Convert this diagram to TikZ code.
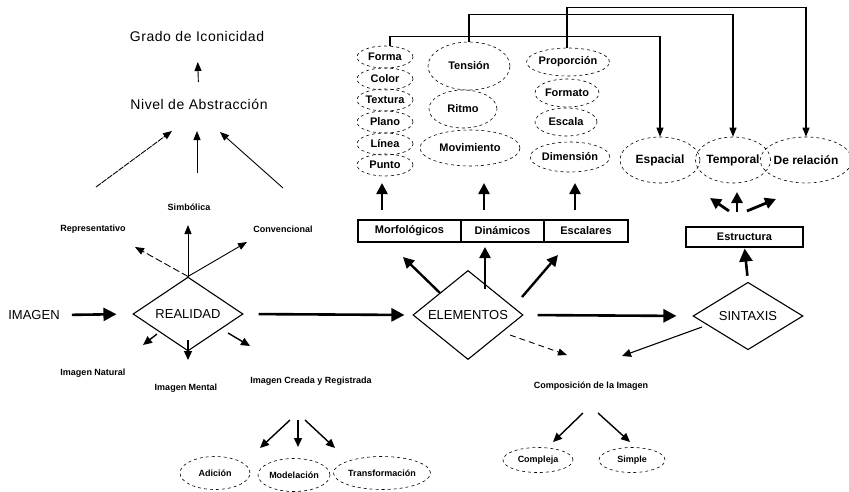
\documentclass[tikz,border=0pt]{standalone}
\usepackage{fontspec}
\setmainfont{Liberation Sans}
\usetikzlibrary{shapes.geometric,arrows.meta}
\tikzset{
  bigtxt/.style={inner sep=0pt,font=\fontsize{14}{16}\selectfont\addfontfeature{LetterSpace=4}},
  lbl/.style={inner sep=0pt,font=\bfseries\fontsize{9}{10}\selectfont},
  coltxt/.style={font=\bfseries\fontsize{11}{13}\selectfont},
  ell/.style={ellipse,draw,dashed,dash pattern=on 3pt off 3pt,line width=0.6pt,inner sep=0pt,coltxt},
  boxnode/.style={rectangle,draw,line width=1.1pt,inner sep=0pt,minimum height=22pt,font=\bfseries\fontsize{11}{13}\selectfont},
  dia/.style={diamond,draw,line width=1.1pt,inner sep=0pt,font=\fontsize{13}{15}\selectfont},
  fat/.style={line width=2.6pt,-{Triangle[width=13pt,length=13pt]}},
  fatsm/.style={line width=2.4pt,-{Triangle[width=11pt,length=11pt]}},
  mid/.style={line width=1.4pt,-{Triangle[width=8pt,length=9pt]}},
  thinarr/.style={line width=0.9pt,-{Triangle[width=7pt,length=9pt]}},
  elbow/.style={line width=1.1pt,-{Triangle[width=7pt,length=9pt]}}
}
\begin{document}
\begin{tikzpicture}[x=1pt,y=-1pt]
\fill[white] (0,0) rectangle (849,491);
\useasboundingbox (0,0) rectangle (849,491);

% left tree
\node[bigtxt] (grado) at (197,36) {Grado de Iconicidad};
\node[bigtxt] (nivel) at (199,104) {Nivel de Abstracción};
\node[lbl] (simb) at (189,207) {Simbólica};
\node[lbl] (repre) at (93,229) {Representativo};
\node[lbl] (conv) at (283,229) {Convencional};
\node[inner sep=0pt,font=\fontsize{13}{15}\selectfont] (imagen) at (34,315) {IMAGEN};
\node[dia,minimum width=110pt,minimum height=38pt] (realidad) at (188,314) {REALIDAD};
\node[lbl] (natural) at (93,373) {Imagen Natural};
\node[lbl] (mental) at (186,388) {Imagen Mental};
\node[lbl] (creada) at (311,381) {Imagen Creada y Registrada};
\node[ell,lbl,minimum width=70pt,minimum height=33pt] (adicion) at (215,473) {Adición};
\node[ell,lbl,minimum width=72pt,minimum height=33pt] (modelacion) at (294,475) {Modelación};
\node[ell,lbl,minimum width=97pt,minimum height=33pt] (transf) at (382,473) {Transformación};

% centre
\node[dia,minimum width=110pt,minimum height=50pt] (elementos) at (468,315) {ELEMENTOS};
\node[dia,minimum width=110pt,minimum height=38pt] (sintaxis) at (748,316) {SINTAXIS};
\node[lbl] (compos) at (591,386) {Composición de la Imagen};
\node[ell,lbl,minimum width=70pt,minimum height=25pt] (compleja) at (538,460) {Compleja};
\node[ell,lbl,minimum width=66pt,minimum height=25pt] (simple) at (632,460) {Simple};

% boxes
\node[boxnode,minimum width=103pt] (morf) at (409.5,231) {Morfológicos};
\node[boxnode,minimum width=83pt] (dina) at (502.5,231) {Dinámicos};
\node[boxnode,minimum width=84pt] (esca) at (586,231) {Escalares};
\node[boxnode,minimum width=117pt,minimum height=20pt] (estr) at (744.5,237) {Estructura};

% column 1
\node[ell,minimum width=56pt,minimum height=22pt] (forma) at (385,57) {Forma};
\node[ell,minimum width=56pt,minimum height=22pt] (color) at (385,79) {Color};
\node[ell,minimum width=56pt,minimum height=22pt] (textura) at (385,100) {Textura};
\node[ell,minimum width=56pt,minimum height=22pt] (plano) at (385,122) {Plano};
\node[ell,minimum width=56pt,minimum height=22pt] (linea) at (385,144) {Línea};
\node[ell,minimum width=56pt,minimum height=22pt] (punto) at (385,165) {Punto};
% column 2
\node[ell,minimum width=82pt,minimum height=48pt] (tension) at (469,66) {Tensión};
\node[ell,minimum width=68pt,minimum height=38pt] (ritmo) at (463,109) {Ritmo};
\node[ell,minimum width=100pt,minimum height=36pt] (movim) at (470,148) {Movimiento};
% column 3
\node[ell,minimum width=74pt,minimum height=28pt] (proporcion) at (568,62) {Proporción};
\node[ell,minimum width=64pt,minimum height=28pt] (formato) at (567,93) {Formato};
\node[ell,minimum width=62pt,minimum height=28pt] (escala) at (566,122) {Escala};
\node[ell,minimum width=74pt,minimum height=30pt] (dimension) at (570,157) {Dimensión};
% right
\node[ell,minimum width=80pt,minimum height=46pt,font=\bfseries\fontsize{12}{14}\selectfont] (espacial) at (660,160) {Espacial};
\node[ell,minimum width=74pt,minimum height=46pt,font=\bfseries\fontsize{12}{14}\selectfont] (temporal) at (733,160) {Temporal};
\node[ell,minimum width=84pt,minimum height=46pt,font=\bfseries\fontsize{12}{14}\selectfont] (relacion) at (806,160) {De relación};

% coordinates for free ends
\coordinate (nA) at (96,187);  \coordinate (nAh) at (172,131);
\coordinate (nB) at (197,173); \coordinate (nBh) at (197,131);
\coordinate (nC) at (283,188); \coordinate (nCh) at (220,132);
\coordinate (rRep) at (135,247);
\coordinate (rSim) at (188,225);
\coordinate (rCon) at (247,242);
\coordinate (rN0) at (157,334); \coordinate (rN1) at (143,345);
\coordinate (rM0) at (188,340); \coordinate (rM1) at (188,360);
\coordinate (rC0) at (228,333); \coordinate (rC1) at (250,346);
\coordinate (cA) at (290,420); \coordinate (cAh) at (260,448);
\coordinate (cB) at (298,420); \coordinate (cBh) at (298,447);
\coordinate (cC) at (305,420); \coordinate (cCh) at (335,448);
\coordinate (eL0) at (440,293); \coordinate (eL1) at (403,257);
\coordinate (eM0) at (485,289); \coordinate (eM1) at (485,247);
\coordinate (eR0) at (522,297); \coordinate (eR1) at (558,255);
\coordinate (eD0) at (510,335); \coordinate (eD1) at (567,355);
\coordinate (sC0) at (702,327); \coordinate (sC1) at (622,356);
\coordinate (kA0) at (583,413); \coordinate (kA1) at (553,442);
\coordinate (kB0) at (598,413); \coordinate (kB1) at (630,442);
\coordinate (bA0) at (382,210); \coordinate (bA1) at (382,183);
\coordinate (bB0) at (484,210); \coordinate (bB1) at (484,183);
\coordinate (bC0) at (575,210); \coordinate (bC1) at (575,183);
\coordinate (tA0) at (729,211); \coordinate (tA1) at (710,198);
\coordinate (tB0) at (737,212); \coordinate (tB1) at (737,192);
\coordinate (tC0) at (747,211); \coordinate (tC1) at (776,199);

% arrows left
\draw[thinarr] (nivel.center) -- (grado.center) [shorten <=22pt, shorten >=26pt];
\draw[thinarr,dash pattern=on 6pt off 1pt] (nA) -- (nAh);
\draw[thinarr] (nB) -- (nBh);
\draw[thinarr] (nC) -- (nCh);
\draw[thinarr,dash pattern=on 7pt off 3pt] (realidad.north) -- (rRep);
\draw[thinarr] (realidad.north) -- (rSim);
\draw[thinarr] (realidad.north) -- (rCon);
\draw[fat] (imagen.east) -- (realidad.west) [shorten <=12pt, shorten >=16pt];
\draw[mid] (rN0) -- (rN1);
\draw[mid] (rM0) -- (rM1);
\draw[mid] (rC0) -- (rC1);
\draw[mid] (cA) -- (cAh);
\draw[mid] (cB) -- (cBh);
\draw[mid] (cC) -- (cCh);

% centre arrows
\draw[fat] (realidad.east) -- (elementos.west) [shorten <=15pt, shorten >=8pt];
\draw[fat] (elementos.east) -- (sintaxis.west) [shorten <=14pt, shorten >=16pt];
\draw[fat] (sintaxis.north) -- (estr.south) [shorten <=6pt, shorten >=1pt];
\draw[fatsm] (eL0) -- (eL1);
\draw[fatsm] (eM0) -- (eM1);
\draw[fatsm] (eR0) -- (eR1);
\draw[thinarr,dash pattern=on 6pt off 4pt] (eD0) -- (eD1);
\draw[mid,line width=1.1pt] (sC0) -- (sC1);
\draw[mid] (kA0) -- (kA1);
\draw[mid] (kB0) -- (kB1);
\draw[fatsm] (bA0) -- (bA1);
\draw[fatsm] (bB0) -- (bB1);
\draw[fatsm] (bC0) -- (bC1);
\draw[fatsm,line width=2.8pt] (tA0) -- (tA1);
\draw[fatsm,line width=2.8pt] (tB0) -- (tB1);
\draw[fatsm,line width=2.8pt] (tC0) -- (tC1);

% elbow connectors
\draw[elbow] ([xshift=5pt]forma.north) -- ++(0,-9) -| (espacial.north);
\draw[elbow] (tension.north) -- ++(0,-27) -| (temporal.north);
\draw[elbow] ([xshift=-1pt]proporcion.north) -- ++(0,-40) -| (relacion.north);
\end{tikzpicture}
\end{document}
